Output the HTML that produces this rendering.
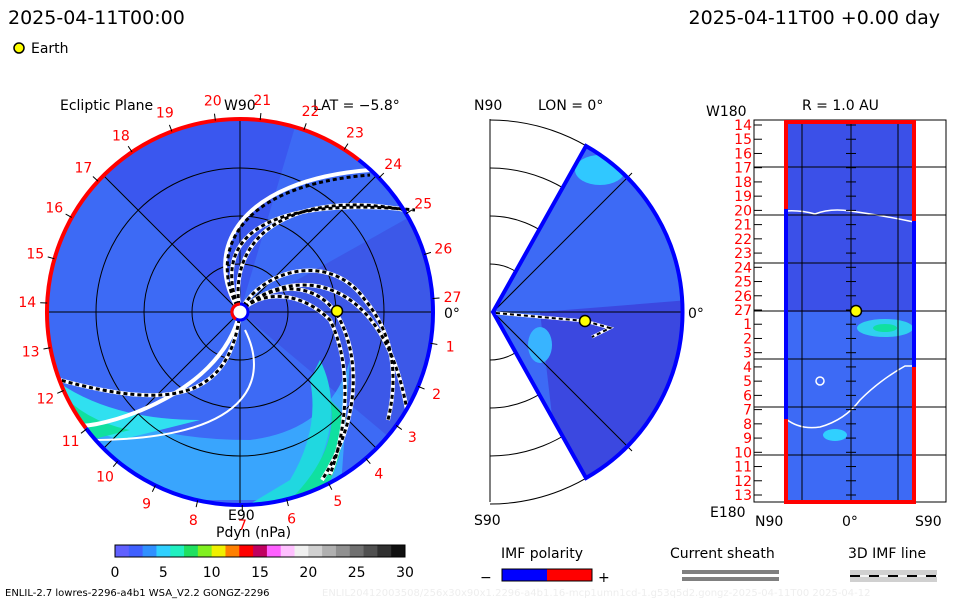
<!DOCTYPE html>
<html><head><meta charset="utf-8"><style>
body{margin:0;background:#fff;width:960px;height:600px;overflow:hidden;font-family:"DejaVu Sans","Liberation Sans",sans-serif}
svg text{font-family:"DejaVu Sans","Liberation Sans",sans-serif}
</style></head><body>
<svg id="s" width="960" height="600" viewBox="0 0 960 600" xmlns="http://www.w3.org/2000/svg">
<defs>
<clipPath id="cc"><circle cx="240" cy="312" r="193"/></clipPath>
<clipPath id="wc"><path d="M493,312 L586,146 A191,191 0 0 1 586,478 Z"/></clipPath>
<radialGradient id="g1" cx="0.2" cy="0.8" r="0.6"><stop offset="0" stop-color="#00e0a0"/><stop offset="0.4" stop-color="#30d8ff"/><stop offset="1" stop-color="#3a8cff" stop-opacity="0"/></radialGradient>
</defs>
<text x="8" y="24" font-size="19">2025-04-11T00:00</text>
<text x="940" y="24" font-size="19" text-anchor="end">2025-04-11T00 +0.00 day</text>
<circle cx="19" cy="48" r="5" fill="#ff0" stroke="#000" stroke-width="1.5"/>
<text x="31" y="53" font-size="14">Earth</text>

<!-- Ecliptic panel -->
<g>
<text x="60" y="110" font-size="14">Ecliptic Plane</text>
<text x="224" y="110" font-size="14">W90</text>
<text x="313" y="110" font-size="14">LAT = −5.8°</text>
<g clip-path="url(#cc)">
<rect x="40" y="110" width="400" height="400" fill="#3d6af5"/>
<path d="M240,312 L40,110 L300,110 L240,312Z" fill="#3a52ee" opacity="0.8"/>
<path d="M240,312 L440,200 L440,480 Z" fill="#3c4de0" opacity="0.6"/>
<path d="M55,380 Q120,440 250,440 Q330,430 350,360 L340,500 L60,500Z" fill="#38b4ff" opacity="0.8"/>
<path d="M55,380 Q110,420 200,420 L120,440 L60,420Z" fill="#30e0f0"/>
<path d="M55,385 Q80,420 130,430 L90,440 Z" fill="#10e0a0"/>
<path d="M320,360 Q350,420 300,500 L240,510 L290,480 Q320,430 310,380Z" fill="#20d8e0"/>
<path d="M330,400 Q340,450 290,500 L320,500 Q350,450 340,410Z" fill="#10e0a0"/>
</g>
<g fill="none" stroke="#000" stroke-width="1">
<circle cx="240" cy="312" r="48"/><circle cx="240" cy="312" r="96"/><circle cx="240" cy="312" r="144"/>
<line x1="47" y1="312" x2="433" y2="312"/><line x1="240" y1="119" x2="240" y2="505"/>
<line x1="104" y1="176" x2="376" y2="448"/><line x1="104" y1="448" x2="376" y2="176"/>
</g>
<g fill="none" stroke-linecap="butt">
<g stroke="#fff" stroke-width="4">
<path d="M240,312 C200,250 240,180 370,170"/>
<path d="M240,312 C210,240 260,195 415,210"/>
<path d="M240,312 C225,230 300,190 405,210"/>
<path d="M240,312 C260,270 330,250 365,300 C390,330 400,370 388,420"/>
<path d="M240,312 C270,280 320,280 340,320 C360,360 360,420 322,480"/>
<path d="M240,312 C260,290 300,290 330,320 C350,360 350,420 330,475"/>
<path d="M240,312 C280,270 380,260 407,410"/>
<path d="M240,312 C230,400 170,410 60,380"/>
<path d="M240,312 C220,400 90,430 80,425"/>
</g>
<g stroke="#000" stroke-width="3" stroke-dasharray="4,3">
<path d="M240,312 C210,240 260,195 415,210"/>
<path d="M240,312 C225,230 300,190 405,210"/>
<path d="M240,312 C205,250 240,185 370,175"/>
<path d="M240,312 C260,270 330,250 365,300 C390,330 400,370 388,420"/>
<path d="M240,312 C270,280 320,280 340,320 C360,360 360,420 322,480"/>
<path d="M240,312 C260,290 300,290 330,320 C350,360 350,420 330,475"/>
<path d="M240,312 C280,270 380,260 407,410"/>
<path d="M240,312 C230,400 170,410 60,380"/>
</g>
<path d="M245,330 C270,380 250,440 90,440" stroke="#fff" stroke-width="2"/>
</g>
<path id="outerRed" fill="none" stroke="#f00" stroke-width="4"/>
<path id="outerBlue" fill="none" stroke="#00f" stroke-width="4"/>
<circle cx="240" cy="312" r="8" fill="#fff" stroke="#00f" stroke-width="3"/>
<path d="M240,304 A8,8 0 0 0 236,319" fill="none" stroke="#f00" stroke-width="3"/>
<circle cx="337" cy="311" r="5.5" fill="#ff0" stroke="#000" stroke-width="1.5"/>
<text x="444" y="318" font-size="14">0°</text>
<text x="228" y="520" font-size="14">E90</text>
<g id="dayLabels" fill="#f00" font-size="14" text-anchor="middle"></g>
</g>

<!-- Meridional panel -->
<g>
<text x="474" y="110" font-size="14">N90</text>
<text x="538" y="110" font-size="14">LON = 0°</text>
<text x="474" y="525" font-size="14">S90</text>
<text x="688" y="318" font-size="14">0°</text>
<g fill="none" stroke="#000" stroke-width="1">
<line x1="490" y1="119" x2="490" y2="502"/>
<path d="M490,264 A48,48 0 0 1 490,360"/><path d="M490,216 A96,96 0 0 1 490,408"/>
<path d="M490,168 A144,144 0 0 1 490,456"/><path d="M490,120 A192,192 0 0 1 490,504"/>
</g>
<g clip-path="url(#wc)">
<rect x="490" y="140" width="200" height="345" fill="#3d6af5"/>
<path d="M540,312 L690,300 L690,485 L560,485Z" fill="#3b48e0"/>
<ellipse cx="600" cy="170" rx="25" ry="15" fill="#30c8ff"/>
<ellipse cx="540" cy="345" rx="12" ry="18" fill="#38b4ff"/>
</g>
<g fill="none" stroke="#000" stroke-width="1">
<line x1="493" y1="312" x2="683" y2="312"/>
<line x1="493" y1="312" x2="632" y2="173"/><line x1="493" y1="312" x2="632" y2="451"/>
</g>
<path d="M493,312 L586,146 A191,191 0 0 1 586,478 Z" fill="none" stroke="#00f" stroke-width="4"/>
<path d="M496,313 L585,321 L610,328 L592,337" fill="none" stroke="#fff" stroke-width="3"/>
<path d="M496,313 L585,321 L610,328 L592,337" fill="none" stroke="#000" stroke-width="2" stroke-dasharray="4,3"/>
<circle cx="585" cy="321" r="5.5" fill="#ff0" stroke="#000" stroke-width="1.5"/>
</g>

<!-- R=1AU panel -->
<g>
<text x="802" y="110" font-size="14">R = 1.0 AU</text>
<text x="706" y="116" font-size="14">W180</text>
<text x="710" y="517" font-size="14">E180</text>
<text x="755" y="526" font-size="14">N90</text>
<text x="842" y="526" font-size="14">0°</text>
<text x="915" y="526" font-size="14">S90</text>
<rect x="754" y="120" width="192" height="382" fill="none" stroke="#000"/>
<rect x="786" y="122" width="128" height="379" fill="#3d6af5"/>
<rect x="786" y="122" width="128" height="190" fill="#3b50e8"/>
<ellipse cx="885" cy="328" rx="28" ry="9" fill="#30d0f0"/>
<ellipse cx="885" cy="328" rx="12" ry="4" fill="#10e0a0"/>
<ellipse cx="835" cy="435" rx="12" ry="6" fill="#30d0ff"/>
<path d="M786,211 Q800,210 815,214 Q830,208 850,211 Q880,215 914,222" fill="none" stroke="#fff" stroke-width="1.5"/>
<path d="M786,419 Q800,430 820,427 Q845,420 860,400 Q880,380 905,366 L914,366" fill="none" stroke="#fff" stroke-width="1.5"/>
<circle cx="820" cy="381" r="4" fill="none" stroke="#fff" stroke-width="1.5"/>
<g id="rGrid" stroke="#000" stroke-width="1"></g>
<path d="M786,209 L786,122 L914,122 L914,221" fill="none" stroke="#f00" stroke-width="4"/>
<path d="M786,419 L786,502 L914,502 L914,367" fill="none" stroke="#f00" stroke-width="4"/>
<line x1="786" y1="209" x2="786" y2="419" stroke="#00f" stroke-width="4"/>
<line x1="914" y1="221" x2="914" y2="367" stroke="#00f" stroke-width="4"/>
<circle cx="856" cy="311" r="5.5" fill="#ff0" stroke="#000" stroke-width="1.5"/>
<g id="rLabels" fill="#f00" font-size="14" text-anchor="end"></g>
</g>

<!-- Colorbar -->
<g>
<text x="216" y="537" font-size="14">Pdyn (nPa)</text>
<g id="cbar"></g>
<rect x="115" y="545" width="290" height="12" fill="none" stroke="#000"/>
<g id="cbTicks" font-size="14" text-anchor="middle"></g>
</g>

<g>
<text x="501" y="558" font-size="14">IMF polarity</text>
<text x="480" y="582" font-size="14">−</text>
<rect x="502" y="569" width="45" height="12" fill="#00f"/>
<rect x="547" y="569" width="45" height="12" fill="#f00"/>
<rect x="502" y="569" width="90" height="12" fill="none" stroke="#000"/>
<text x="598" y="582" font-size="14">+</text>
</g>
<g>
<text x="670" y="558" font-size="14">Current sheath</text>
<rect x="682" y="570" width="97" height="4" fill="#808080"/>
<rect x="682" y="577" width="97" height="4" fill="#808080"/>
</g>
<g>
<text x="848" y="558" font-size="14">3D IMF line</text>
<rect x="850" y="570" width="87" height="12" fill="#d0d0d0"/>
<line x1="850" y1="576" x2="937" y2="576" stroke="#000" stroke-width="2" stroke-dasharray="10,9"/>
<line x1="850" y1="576" x2="937" y2="576" stroke="#fff" stroke-width="2" stroke-dasharray="0,10,9,0" opacity="0.8"/>
</g>
<text x="5" y="596" font-size="10">ENLIL-2.7 lowres-2296-a4b1 WSA_V2.2 GONGZ-2296</text>
<text x="322" y="596" font-size="10" fill="#eee">ENLIL20412003508/256x30x90x1.2296-a4b1.16-mcp1umn1cd-1.g53q5d2.gongz-2025-04-11T00   2025-04-12</text>
</svg>
<script>
const dayLabels=[27,26,25,24,23,22,21,20,19,18,17,16,15,14,13,12,11,10,9,8,7,6,5,4,3,2,1];
const rowLabels=[14,15,16,17,18,19,20,21,22,23,24,25,26,27,1,2,3,4,5,6,7,8,9,10,11,12,13];
const cbTickValues=[0,5,10,15,20,25,30];
const cbColors=["#6060ff","#4060ff","#3090ff","#30d0ff","#20f0c0","#20e060","#80f020","#f0f000","#ff8000","#ff0000","#c00060","#ff60ff","#ffc0ff","#f0f0f0","#d0d0d0","#b0b0b0","#909090","#707070","#505050","#303030","#101010"];
const NS="http://www.w3.org/2000/svg";
const cx=240,cy=312;
function arcPath(r,a0,a1){const p=a=>[cx+r*Math.cos(a*Math.PI/180),cy-r*Math.sin(a*Math.PI/180)];const s=p(a0),e=p(a1);const large=(a1-a0)>180?1:0;return `M${s[0]},${s[1]} A${r},${r} 0 ${large} 0 ${e[0]},${e[1]}`;}
document.getElementById('outerRed').setAttribute('d',arcPath(193,52,217));
document.getElementById('outerBlue').setAttribute('d',arcPath(193,217,412));
const dl=document.getElementById('dayLabels');
dayLabels.forEach((d,k)=>{const a=(4+k*360/27)*Math.PI/180;const t=document.createElementNS(NS,'text');
t.setAttribute('x',cx+213*Math.cos(a));t.setAttribute('y',cy-213*Math.sin(a)+5);t.textContent=d;


dl.appendChild(t);
const tk=document.createElementNS(NS,'line');tk.setAttribute('x1',cx+193*Math.cos(a));tk.setAttribute('y1',cy-193*Math.sin(a));tk.setAttribute('x2',cx+200*Math.cos(a));tk.setAttribute('y2',cy-200*Math.sin(a));tk.setAttribute('stroke','#000');dl.appendChild(tk);});
const rl=document.getElementById('rLabels'),rg=document.getElementById('rGrid');
rowLabels.forEach((d,i)=>{const y=125+i*(495-125)/26;const t=document.createElementNS(NS,'text');
t.setAttribute('x',752);t.setAttribute('y',y+5);t.textContent=d;


rl.appendChild(t);
const l=document.createElementNS(NS,'line');l.setAttribute('x1',754);l.setAttribute('x2',762);l.setAttribute('y1',y);l.setAttribute('y2',y);rg.appendChild(l);
const c=document.createElementNS(NS,'line');c.setAttribute('x1',846);c.setAttribute('x2',856);c.setAttribute('y1',y);c.setAttribute('y2',y);rg.appendChild(c);});
[167,215,263,311,359,407,455].forEach(y=>{const l=document.createElementNS(NS,'line');l.setAttribute('x1',754);l.setAttribute('x2',946);l.setAttribute('y1',y);l.setAttribute('y2',y);rg.appendChild(l);});
[802,851,898].forEach(x=>{const l=document.createElementNS(NS,'line');l.setAttribute('x1',x);l.setAttribute('x2',x);l.setAttribute('y1',122);l.setAttribute('y2',502);rg.appendChild(l);});
const cb=document.getElementById('cbar');const w=290/cbColors.length;
cbColors.forEach((c,i)=>{const r=document.createElementNS(NS,'rect');r.setAttribute('x',115+i*w);r.setAttribute('y',545);r.setAttribute('width',w+0.5);r.setAttribute('height',12);r.setAttribute('fill',c);


cb.appendChild(r);});
const ct=document.getElementById('cbTicks');
cbTickValues.forEach(v=>{const x=115+v/30*290;const t=document.createElementNS(NS,'text');t.setAttribute('x',x);t.setAttribute('y',577);t.textContent=v;


ct.appendChild(t);});
</script>
</body></html>
